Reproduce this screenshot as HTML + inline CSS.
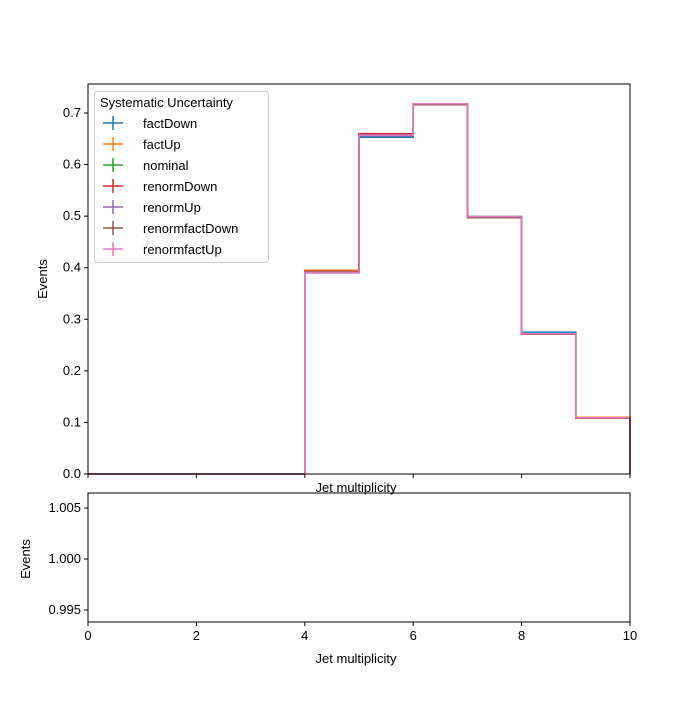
<!DOCTYPE html>
<html><head><meta charset="utf-8"><style>body{margin:0;background:#fff}svg{font-family:"Liberation Sans","DejaVu Sans",sans-serif}</style></head>
<body>
<svg id="c" width="700" height="700" xmlns="http://www.w3.org/2000/svg"></svg>
<script>
const edges=[0,1,2,3,4,5,6,7,8,9,10];
const seriesNames=["factDown","factUp","nominal","renormDown","renormUp","renormfactDown","renormfactUp"];
const colors=["#1f77b4","#ff7f0e","#2ca02c","#d62728","#9467bd","#8c564b","#e377c2"];
const factDown=[0,0,0,0,0.391,0.653,0.717,0.499,0.275,0.110];
const factUp=[0,0,0,0,0.395,0.659,0.718,0.499,0.272,0.110];
const nominal=[0,0,0,0,0.392,0.657,0.718,0.499,0.272,0.109];
const renormDown=[0,0,0,0,0.393,0.660,0.718,0.498,0.272,0.109];
const renormUp=[0,0,0,0,0.390,0.656,0.717,0.499,0.272,0.109];
const renormfactDown=[0,0,0,0,0.392,0.658,0.716,0.497,0.271,0.108];
const renormfactUp=[0,0,0,0,0.391,0.657,0.718,0.499,0.272,0.109];
const allSeries=[factDown,factUp,nominal,renormDown,renormUp,renormfactDown,renormfactUp];
const yTicks=[0,0.1,0.2,0.3,0.4,0.5,0.6,0.7];
const xTicks=[0,2,4,6,8,10];
const rTicks=[0.995,1.000,1.005];
const svg=document.getElementById('c');
const NS="http://www.w3.org/2000/svg";
function mk(t,a,p){const e=document.createElementNS(NS,t);for(const k in a)e.setAttribute(k,a[k]);(p||svg).appendChild(e);return e;}
const X0=88,X1=630,Y0=474,Y1=84;
const xs=v=>X0+(v-0)/10*(X1-X0);
const ys=v=>Y0-v/0.7*(474-113);
const RY0=622,RY1=493;
const rys=v=>559-(v-1)/0.005*51;
// main frame
const main=mk('g',{});


allSeries.forEach((s,i)=>{
 let d=`M${xs(edges[0])},${ys(s[0])}`;
 for(let b=0;b<s.length;b++){d+=` L${xs(edges[b])},${ys(s[b])} L${xs(edges[b+1])},${ys(s[b])}`;}
 d+=` L${xs(edges[edges.length-1])},${ys(0)}`;
 const p=mk('path',{d:d,fill:'none',stroke:colors[i],'stroke-width':1.5},main);
 
 
});
mk('rect',{x:X0,y:Y1,width:X1-X0,height:Y0-Y1,fill:'none',stroke:'#000','stroke-width':1},main);
yTicks.forEach(t=>{const y=ys(t);mk('line',{x1:X0-4,x2:X0,y1:y,y2:y,stroke:'#000'},main);
 const tx=mk('text',{x:X0-7,y:y+4,'font-size':13,'text-anchor':'end'},main);tx.textContent=t.toFixed(1);
 });
xTicks.forEach(t=>{const x=xs(t);mk('line',{x1:x,x2:x,y1:Y0,y2:Y0+4,stroke:'#000'},main);});
let t=mk('text',{x:47,y:279,'font-size':13,'text-anchor':'middle',transform:'rotate(-90 47 279)'});t.textContent='Events';

t=mk('text',{x:356,y:492,'font-size':13,'text-anchor':'middle'});t.textContent='Jet multiplicity';

// legend
const lg=mk('g',{});


mk('rect',{x:94.5,y:91.5,width:174,height:171,rx:3,fill:'#fff','fill-opacity':0.8,stroke:'#ccc'},lg);
t=mk('text',{x:100,y:107,'font-size':13},lg);t.textContent='Systematic Uncertainty';
seriesNames.forEach((n,i)=>{const y=123+i*21;
 const g=mk('g',{},lg);
 
 
 mk('line',{x1:103,x2:123,y1:y,y2:y,stroke:colors[i],'stroke-width':1.5},g);
 mk('line',{x1:113,x2:113,y1:y-7,y2:y+7,stroke:colors[i],'stroke-width':1.5},g);
 const tx=mk('text',{x:143,y:y+5,'font-size':13},g);tx.textContent=n;});
// ratio
const r=mk('g',{});


mk('rect',{x:X0,y:RY1,width:X1-X0,height:RY0-RY1,fill:'none',stroke:'#000'},r);
rTicks.forEach(v=>{const y=rys(v);mk('line',{x1:X0-4,x2:X0,y1:y,y2:y,stroke:'#000'},r);
 const tx=mk('text',{x:X0-7,y:y+4,'font-size':13,'text-anchor':'end'},r);tx.textContent=v.toFixed(3);});
xTicks.forEach(v=>{const x=xs(v);mk('line',{x1:x,x2:x,y1:RY0,y2:RY0+4,stroke:'#000'},r);
 const tx=mk('text',{x:x,y:RY0+18,'font-size':13,'text-anchor':'middle'},r);tx.textContent=v;
 });
t=mk('text',{x:30,y:559,'font-size':13,'text-anchor':'middle',transform:'rotate(-90 30 559)'});t.textContent='Events';

t=mk('text',{x:356,y:663,'font-size':13,'text-anchor':'middle'});t.textContent='Jet multiplicity';

</script>
</body></html>
